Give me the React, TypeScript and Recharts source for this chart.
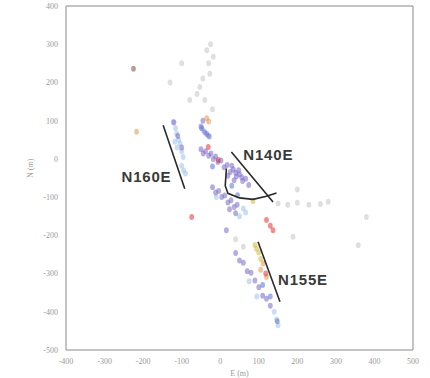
import {
  ScatterChart,
  Scatter,
  XAxis,
  YAxis,
} from 'recharts';

// axis ticks
const xTicks = [-400, -300, -200, -100, 0, 100, 200, 300, 400, 500];
const yTicks = [-500, -400, -300, -200, -100, 0, 100, 200, 300, 400];

// event groups, [E, N] in metres
const purple = [
  [-50, 25], [-44, 14], [-38, 20], [-30, 8], [-24, 14], [-18, 0], [-12, 6], [-6, -8],
  [2, -4], [10, -22], [18, -16], [26, -34], [34, -28], [42, -46], [50, -40], [58, -58],
  [66, -52], [74, -68], [30, -18], [40, -36], [48, -30], [20, -44], [36, -56], [56, -48],
  [-20, -74], [-12, -88], [-4, -84], [4, -100], [12, -96], [20, -114], [28, -108],
  [36, -126], [44, -120], [24, -132], [40, -142], [40, -246], [50, -266], [60, -272],
  [70, -294], [80, -298], [90, -318], [100, -336], [110, -358], [120, -366], [130, -384],
  [16, -187], [-120, 95], [-110, 60], [-100, 30], [-50, 85], [-40, 70], [-30, 60], [-45, 100],
];
const lightBlue = [
  [-122, 97], [-116, 80], [-113, 66], [-108, 50], [-104, 40], [-100, 20], [-96, 5],
  [-100, -18], [-95, -30], [-90, -38], [-112, 30], [-118, 45], [60, -130], [66, -140],
  [50, -150], [-44, 75], [-27, 58], [140, -400], [146, -420], [150, -435], [-10, -100],
  [75, -320], [95, -360],
];
const blue = [
  [-48, 80], [-35, 65], [-20, -20], [30, -70], [45, -95], [110, -330], [130, -360], [148, -425],
];
const red = [[-5, -3], [-31, 31], [120, -160], [130, -175], [137, -187], [-74, -152], [118, -300]];
const orange = [[-35, 106], [-30, 98], [111, -274], [120, -309], [105, -290], [-217, 71]];
const yellow = [[94, -235], [100, -245], [90, -225], [105, -262], [85, -110]];
const grey = [
  [-35, 284], [-18, 267], [-27, 223], [-53, 188], [-40, 154], [-79, 154], [-25, 300],
  [-30, 250], [-45, 210], [-60, 170], [-20, 130], [189, -204], [358, -226], [379, -152],
  [150, -117], [175, -120], [200, -115], [230, -120], [260, -118], [280, -112], [200, -80],
  [40, -210], [60, -230], [-100, 250], [-130, 200],
];
const brown = [[-225, 236]];

// fault traces
const n160e = [[-148, 88], [-92, -78]];
const n140e = [[29, 18], [137, -113]];
const n155e = [[98, -217], [155, -374]];
const curve = [[16, -25], [13, -70], [20, -90], [50, -102], [85, -106], [120, -98], [146, -89]];

// labels
const labels = [
  { x: 60, y: -2, text: 'N140E' },
  { x: -256, y: -60, text: 'N160E' },
  { x: 150, y: -331, text: 'N155E' },
];

const toPts = (arr: number[][]) => arr.map(([x, y]) => ({ x, y }));

const AXIS = '#8a8a8a';
const TICK = { fontSize: 8, fill: '#9a9a9a', stroke: 'none' };

const dot = (fill: string) => (p: any) => (
  <ellipse cx={p.cx} cy={p.cy} rx={2.4} ry={3} fill={fill} fillOpacity={0.55} />
);

const groups: [number[][], string][] = [
  [grey, '#c4c4c4'],
  [lightBlue, '#9cc2ea'],
  [purple, '#7a68c6'],
  [blue, '#5577d2'],
  [yellow, '#cdbb3c'],
  [orange, '#e3954e'],
  [red, '#e0352f'],
  [brown, '#8a4a3a'],
];

export default function App() {
  return (
    <div style={{ position: 'absolute', left: 0, top: 0, width: 430, height: 378, background: '#fff' }}>
      <ScatterChart width={430} height={378} margin={{ top: 6, right: 17, bottom: 0, left: 26 }}>
        <XAxis
          type="number"
          dataKey="x"
          domain={[-400, 500]}
          ticks={xTicks}
          tick={TICK}
          tickLine={false}
          stroke={AXIS}
          height={28}
          label={{ value: 'E (m)', position: 'insideBottom', offset: 2, fontSize: 8, fill: '#9a9a9a' }}
        />
        <XAxis xAxisId="bt" type="number" dataKey="x" domain={[-400, 500]} ticks={xTicks} mirror tick={false} axisLine={false} tickSize={4} stroke={AXIS} />
        <XAxis xAxisId="top" orientation="top" type="number" dataKey="x" domain={[-400, 500]} ticks={xTicks} mirror tick={false} tickSize={4} stroke={AXIS} />
        <YAxis
          type="number"
          dataKey="y"
          domain={[-500, 400]}
          ticks={yTicks}
          tick={TICK}
          tickLine={false}
          stroke={AXIS}
          width={40}
          label={{ value: 'N (m)', angle: -90, position: 'insideLeft', offset: 4, fontSize: 8, fill: '#9a9a9a' }}
        />
        <YAxis yAxisId="li" type="number" dataKey="y" domain={[-500, 400]} ticks={yTicks} mirror tick={false} axisLine={false} tickSize={4} stroke={AXIS} />
        <YAxis yAxisId="right" orientation="right" type="number" dataKey="y" domain={[-500, 400]} ticks={yTicks} mirror tick={false} tickSize={4} stroke={AXIS} />

        {groups.map(([arr, c], i) => (
          <Scatter key={i} data={toPts(arr)} shape={dot(c)} isAnimationActive={false} />
        ))}

        {[n160e, n140e, n155e, curve].map((arr, i) => (
          <Scatter
            key={'l' + i}
            data={toPts(arr)}
            line={{ stroke: '#2a2a2a', strokeWidth: 1.6 }}
            lineType="joint"
            shape={() => <g />}
            isAnimationActive={false}
          />
        ))}

        <Scatter
          data={labels}
          isAnimationActive={false}
          shape={(p: any) => (
            <text
              x={p.cx}
              y={p.cy}
              fontSize={15}
              fontWeight={700}
              letterSpacing={0.8}
              fill="#3a3a3a"
              fontFamily="Liberation Sans, Arial, sans-serif"
            >
              {p.payload.text}
            </text>
          )}
        />
      </ScatterChart>
    </div>
  );
}
